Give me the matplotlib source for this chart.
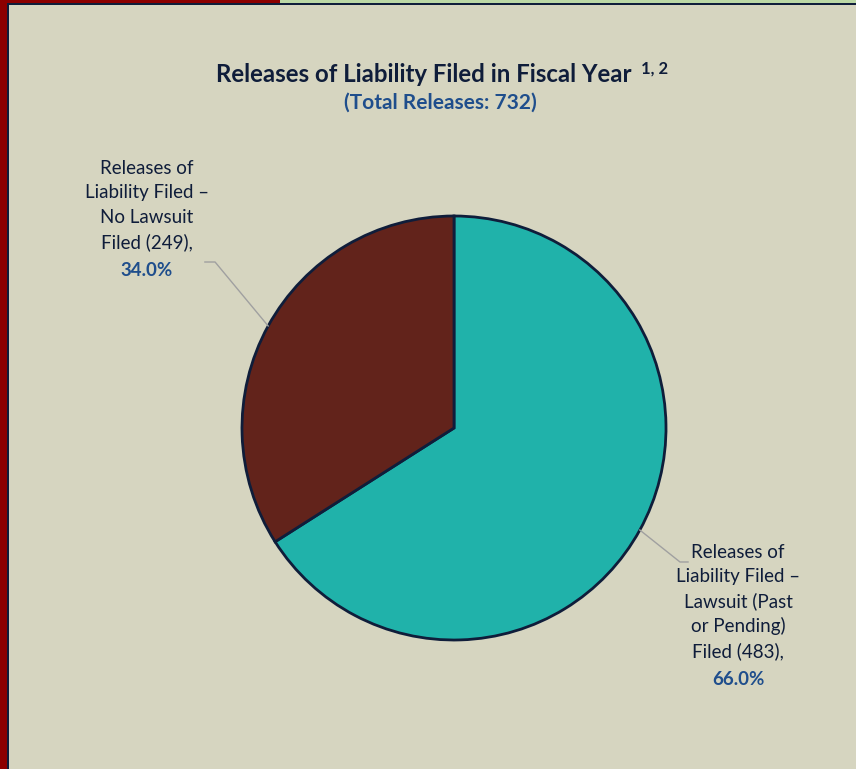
import matplotlib.pyplot as plt
from matplotlib.patches import Rectangle
import numpy as np

categories = [["Releases of", "Liability Filed \u2013", "Lawsuit (Past", "or Pending)", "Filed (483),"],
              ["Releases of", "Liability Filed \u2013", "No Lawsuit", "Filed (249),"]]
counts = [483, 249]
percents = ["66.0%", "34.0%"]
colors = ["#20b2aa", "#62231b"]

W, H = 856, 769
bg = "#d6d5c0"
navy = "#0f1d3a"
blue = "#1f4e8c"
plt.rcParams['font.family'] = ['Lato', 'DejaVu Sans']

fig = plt.figure(figsize=(W / 100, H / 100), dpi=100, facecolor=bg)

def px(x, y):
    return x / W, 1 - y / H

# frame strips
for x0, y0, w, h, c in [(0, 0, 7, H, "#8c0000"), (0, 0, 280, 3, "#8c0000"),
                        (280, 0, W - 280, 3, "#bcd8a6"),
                        (7, 3, 2, H, navy), (7, 3, W - 7, 2, navy)]:
    fig.patches.append(Rectangle((x0 / W, 1 - (y0 + h) / H), w / W, h / H,
                                 transform=fig.transFigure, color=c, lw=0))

# pie axes
cx, cy, r = 454, 428, 212
lim = 1.2
ax = fig.add_axes([(cx - r * lim) / W, (H - cy - r * lim) / H, 2 * r * lim / W, 2 * r * lim / H])
wedges, _ = ax.pie(counts, colors=colors, startangle=90, counterclock=False, radius=1,
                   wedgeprops=dict(edgecolor=navy, linewidth=2))
ax.set_xlim(-lim, lim)
ax.set_ylim(-lim, lim)
ax.axis('off')

# leader lines and labels
elbows = [(1.066, -0.632, 1.104), (-1.127, 0.783, -1.175)]
text_pos = [(738, 552), (147, 168)]
for w, (ex, ey, endx), lines, pct, (tx, ty) in zip(wedges, elbows, categories, percents, text_pos):
    ang = np.deg2rad((w.theta1 + w.theta2) / 2)
    ax.plot([np.cos(ang), ex, endx], [np.sin(ang), ey, ey], color="#a0a0a0", lw=1, clip_on=False)
    for i, line in enumerate(lines):
        fig.text(*px(tx, ty + i * 24.7), line, ha='center', va='center', fontsize=13.5, color=navy)
    fig.text(*px(tx, ty + (len(lines) - 1) * 24.7 + 28.5), pct, ha='center', va='center',
             fontsize=13.5, color=blue, fontweight='bold')

title = fig.text(*px(424, 75), "Releases of Liability Filed in Fiscal Year", ha='center',
                 va='center', fontsize=17.3, fontweight='bold', color=navy)
fig.text(*px(641, 69), "1, 2", ha='left', va='center', fontsize=12, fontweight='bold', color=navy)
fig.text(*px(440, 103), "(Total Releases: 732)", ha='center', va='center', fontsize=15,
         fontweight='bold', color=blue)

fig.savefig("out.png", dpi=100, facecolor=bg)
